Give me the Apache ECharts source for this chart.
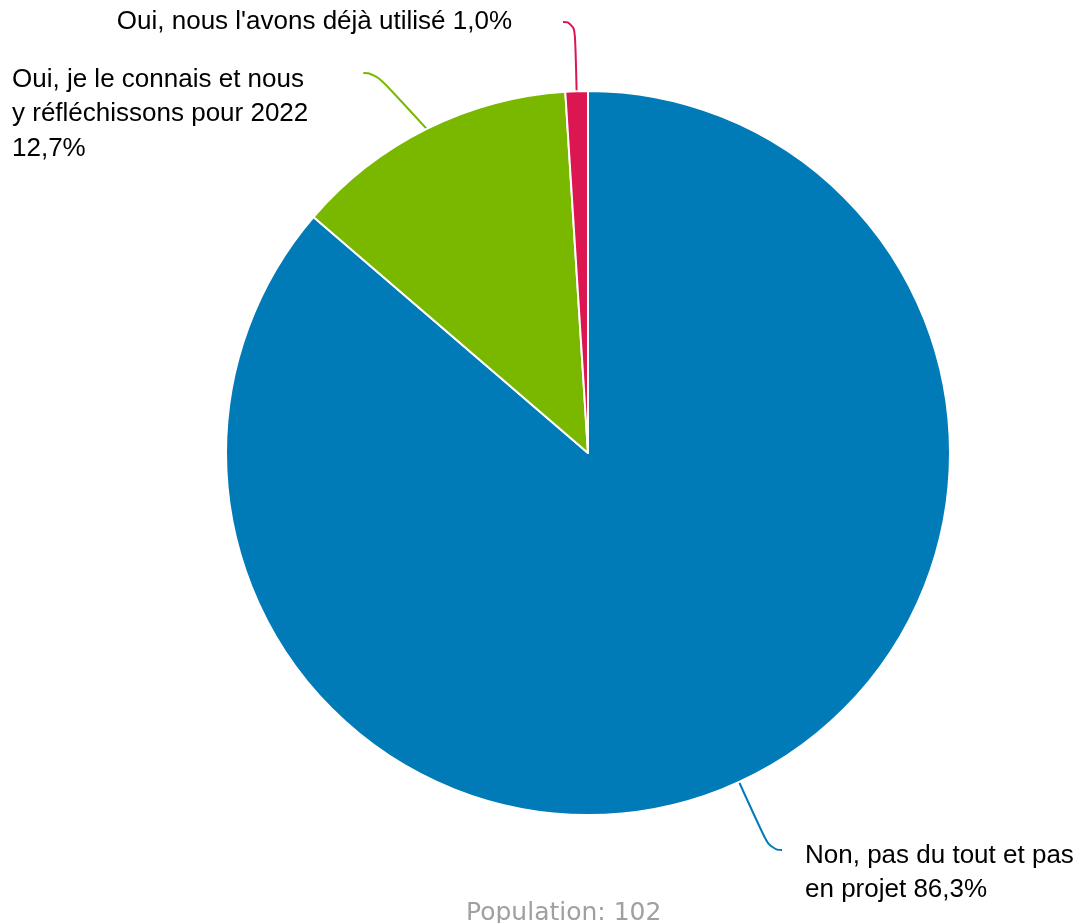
<!DOCTYPE html>
<html>
<head>
<meta charset="utf-8">
<script src="https://cdn.jsdelivr.net/npm/echarts@6/dist/echarts.min.js"></script>
<style>
  html, body { margin: 0; padding: 0; background: #fff; }
  #chart { width: 1078px; height: 923px; }
</style>
</head>
<body>
<div id="chart"></div>
<script>
// réponses (ordre horaire depuis midi)
var categories = [
  "Non, pas du tout et pas\nen projet",
  "Oui, je le connais et nous\ny réfléchissons pour 2022",
  "Oui, nous l'avons déjà utilisé"
];
var percents = [86.3, 12.7, 1.0];
var colors = ["#007bb8", "#7ab800", "#dc1650"];
var population = 102;

// placement des étiquettes (spacer = hauteur vide au-dessus du texte)
var labelPos = [
  { x: 782, y: 850, align: "left", sep: " ", padding: [0, 0, 0, 23], spacer: "top1" },
  { x: 12, y: 73, align: "left", sep: "\n", padding: [0, 55, 0, 0], spacer: "top2" },
  { x: 563, y: 22, align: "right", sep: " ", padding: [0, 51, 0, 0], spacer: null }
];

var myecharts = echarts.init(document.getElementById("chart"));

var data = [];
for (var i = 0; i < categories.length; i++) {
  data.push({
    name: categories[i],
    value: percents[i],
    itemStyle: { color: colors[i] },
    label: { padding: labelPos[i].padding },
    labelLine: { lineStyle: { color: colors[i] } }
  });
}

var option = {
  animation: false,
  title: {
    text: "Population: " + population,
    left: 461,
    top: 896,
    textStyle: {
      fontFamily: "DejaVu Sans",
      fontSize: 25,
      fontWeight: "normal",
      color: "#a0a0a0"
    }
  },
  series: [
    {
      type: "pie",
      center: [588, 453],
      radius: 362,
      startAngle: 90,
      clockwise: true,
      avoidLabelOverlap: false,
      data: data,
      itemStyle: { borderColor: "#fff", borderWidth: 2 },
      label: {
        show: true,
        formatter: function (p) {
          var lp = labelPos[p.dataIndex];
          var pct = p.value.toFixed(1).replace(".", ",") + "%";
          var txt = p.name + lp.sep + pct;
          return lp.spacer ? "{" + lp.spacer + "| }\n" + txt : txt;
        },
        fontFamily: "Liberation Sans",
        fontSize: 26,
        lineHeight: 34.5,
        color: "#000",
        overflow: "none",
        bleedMargin: -1000,
        backgroundColor: "rgba(0,0,0,0)",
        rich: {
          top1: { lineHeight: 46, fontSize: 10 },
          top2: { lineHeight: 82, fontSize: 10 }
        }
      },
      labelLine: {
        show: true,
        smooth: 0.6,
        length2: 12,
        lineStyle: { width: 2 }
      },
      labelLayout: function (params) {
        var p = labelPos[params.dataIndex];
        return { x: p.x, y: p.y, align: p.align, verticalAlign: "middle" };
      }
    }
  ]
};
myecharts.setOption(option);
</script>
</body>
</html>
